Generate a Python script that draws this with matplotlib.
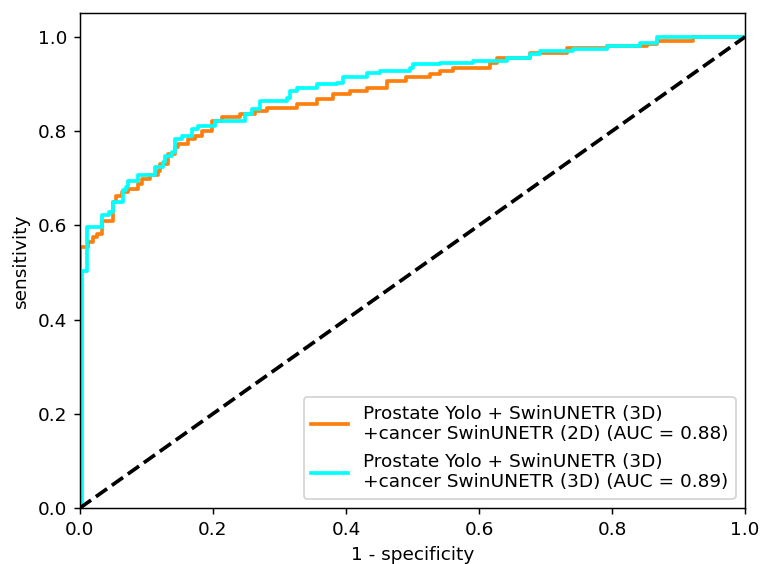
import matplotlib
matplotlib.use("Agg")
import matplotlib.pyplot as plt

# ROC curve corner points (fpr at jump, new tpr)
fpr_2d = [0, 0, 0.0125, 0.020, 0.025, 0.033, 0.050, 0.055, 0.063, 0.073, 0.088, 0.093,
          0.105, 0.118, 0.120, 0.133, 0.143, 0.148, 0.163, 0.173, 0.183, 0.198, 0.213,
          0.241, 0.263, 0.281, 0.326, 0.356, 0.381, 0.406, 0.431, 0.461, 0.491, 0.526,
          0.541, 0.561, 0.617, 0.627, 0.677, 0.732, 0.792, 0.852, 0.867, 0.922, 1.0]
tpr_2d = [0, 0.553, 0.564, 0.575, 0.582, 0.610, 0.649, 0.663, 0.670, 0.677, 0.688, 0.699,
          0.706, 0.716, 0.730, 0.751, 0.766, 0.773, 0.783, 0.790, 0.801, 0.822, 0.829,
          0.836, 0.843, 0.850, 0.857, 0.868, 0.878, 0.885, 0.892, 0.907, 0.914, 0.921,
          0.928, 0.935, 0.945, 0.956, 0.965, 0.977, 0.981, 0.985, 0.992, 1.0, 1.0]

fpr_3d = [0, 0.0025, 0.010, 0.033, 0.043, 0.050, 0.065, 0.070, 0.073, 0.088, 0.113, 0.125,
          0.128, 0.138, 0.143, 0.153, 0.168, 0.178, 0.203, 0.248, 0.258, 0.271, 0.311,
          0.316, 0.326, 0.356, 0.386, 0.396, 0.431, 0.451, 0.496, 0.501, 0.541, 0.591,
          0.642, 0.677, 0.692, 0.742, 0.792, 0.842, 0.867, 1.0]
tpr_3d = [0, 0.504, 0.596, 0.621, 0.628, 0.650, 0.674, 0.681, 0.695, 0.706, 0.723, 0.734,
          0.748, 0.755, 0.783, 0.790, 0.804, 0.811, 0.822, 0.836, 0.847, 0.864, 0.871,
          0.886, 0.892, 0.900, 0.903, 0.914, 0.924, 0.928, 0.935, 0.942, 0.945, 0.949,
          0.956, 0.963, 0.970, 0.974, 0.981, 0.988, 0.999, 1.0]

label_2d = "Prostate Yolo + SwinUNETR (3D)\n+cancer SwinUNETR (2D) (AUC = 0.88)"
label_3d = "Prostate Yolo + SwinUNETR (3D)\n+cancer SwinUNETR (3D) (AUC = 0.89)"

DPI = 133
fig = plt.figure(figsize=(761 / DPI, 564 / DPI), dpi=DPI)
ax = fig.add_axes([0.105, 0.0993, 0.874, 0.877])
ax.plot(fpr_2d, tpr_2d, color="#ff7f0e", lw=2, drawstyle="steps-post", label=label_2d)
ax.plot(fpr_3d, tpr_3d, color="cyan", lw=2, drawstyle="steps-post", label=label_3d)
ax.plot([0, 1], [0, 1], "k--", lw=2)
ax.set_xlim(0, 1)
ax.set_ylim(0, 1.05)
ax.set_xlabel("1 - specificity")
ax.set_ylabel("sensitivity")
ax.legend(loc="lower right")
fig.savefig("out.png", dpi=DPI)
